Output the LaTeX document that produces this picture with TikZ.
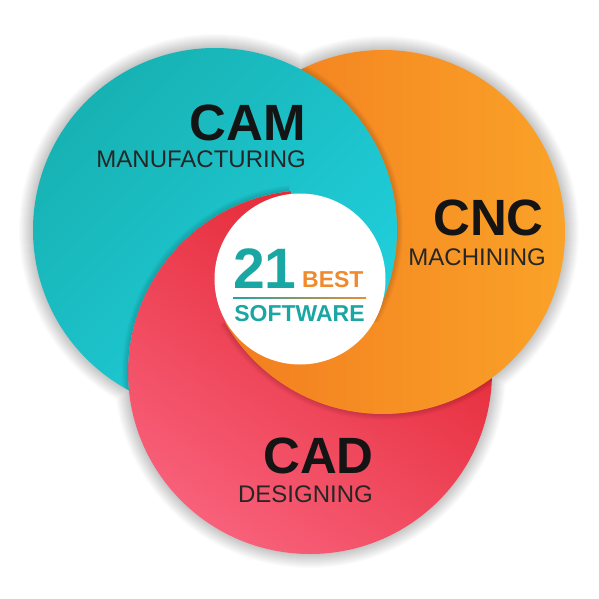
\documentclass[tikz,border=0pt]{standalone}
\usepackage{fontspec}
\setmainfont{Liberation Sans}
\definecolor{tealA}{HTML}{17B2B3}
\definecolor{tealB}{HTML}{21D0DE}
\definecolor{orA}{HTML}{F27B1F}
\definecolor{orB}{HTML}{FAA228}
\definecolor{rdA}{HTML}{E2222D}
\definecolor{rdB}{HTML}{F8607A}
\definecolor{txtteal}{HTML}{1AA7A4}
\definecolor{txtor}{HTML}{EF8A2D}
\tikzset{
  tealdisk/.style={shading=axis,top color=tealA,bottom color=tealB,shading angle=45},
  ordisk/.style={shading=axis,top color=orA,bottom color=orB,shading angle=90},
  rddisk/.style={shading=axis,top color=rdA,bottom color=rdB,shading angle=-35},
  titletext/.style={inner sep=0pt,anchor=base east,font=\bfseries\fontsize{51}{51}\selectfont,text=black!92},
  subtext/.style={inner sep=0pt,anchor=base east,font=\fontsize{24}{24}\selectfont,text=black!85},
}
\newcommand\ringshadow[1]{%
  \foreach \k in {1,...,6}{\fill[black,opacity=0.024,even odd rule] (#1) circle (182+\k) (#1) circle (182);}}
\newcommand\notredleft{%
  \clip (0,0) -- (599,0) -- (599,599) -- (0,599) -- cycle
       (P) -- (A96) arc[start angle=-96.06,end angle=-181.97,radius=182] -- cycle;}
\begin{document}
\begin{tikzpicture}[x=1pt,y=-1pt]
\useasboundingbox (0,0) rectangle (599,599);
\fill[white] (0,0) rectangle (599,599);
\coordinate (T) at (215,230);
\coordinate (O) at (383,232);
\coordinate (Rd) at (310,372);
\coordinate (P) at (300,279);
\coordinate (A96) at (290.79,191.02);
\coordinate (X1) at (128.90,390.35);
% outer soft shadow
\foreach \k in {1,...,14}{
  \fill[black,opacity=0.017] (T) circle (182+\k) (O) circle (182+\k) (Rd) circle (182+\k);
}
% red: bottom layer
\shade[rddisk] (Rd) circle (182);
% shadow of orange on red
\begin{scope}[even odd rule]
  \clip (Rd) circle (182);
  \notredleft
  \ringshadow{O}
\end{scope}
% orange, except where red lies on top of it
\begin{scope}[even odd rule]
  \notredleft
  \shade[ordisk] (O) circle (182);
  \begin{scope}
    \clip (0,0) rectangle (599,321);
    \clip (O) circle (182);
    \ringshadow{T}
  \end{scope}
\end{scope}
% teal, where it is visible
\begin{scope}
  \clip (X1) arc[start angle=118.23,end angle=389.97,radius=182] -- (P) -- (A96)
        arc[start angle=-96.06,end angle=-185.79,radius=182] -- cycle;
  \shade[tealdisk] (T) circle (182);
  \begin{scope}
    \clip (0,0) rectangle (289,599);
    \ringshadow{Rd}
  \end{scope}
\end{scope}
% centre
\fill[white] (P) circle (85.5);
\node[inner sep=0pt,anchor=base west,font=\bfseries\fontsize{57}{57}\selectfont,text=txtteal] (n21) at (233,288) {21};
\node[inner sep=0pt,anchor=base west,font=\bfseries\fontsize{23}{23}\selectfont,text=txtor] (best) at (302,287) {BEST};
\shade[left color=txtteal,right color=txtor] (233,297.3) rectangle (366,298.8);
\node[inner sep=0pt,anchor=base,font=\bfseries\fontsize{23}{23}\selectfont,text=txtteal] (soft) at (299.5,321) {SOFTWARE};
% labels
\node[titletext] (cam) at (306,140) {CAM};
\node[subtext] (camsub) at (306,167) {MANUFACTURING};
\node[titletext] (cnc) at (544,235) {CNC};
\node[subtext] (cncsub) at (546,265) {MACHINING};
\node[titletext] (cad) at (374,473) {CAD};
\node[subtext] (cadsub) at (373,502) {DESIGNING};
\end{tikzpicture}
\end{document}
